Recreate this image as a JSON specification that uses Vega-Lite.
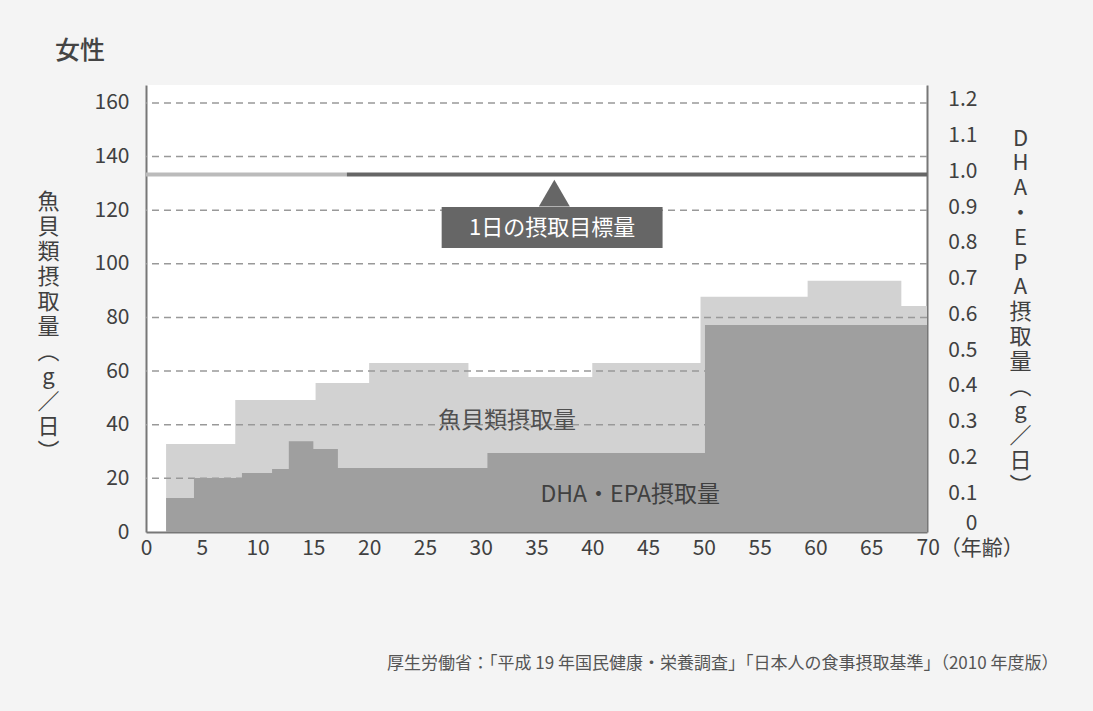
{
  "$schema": "https://vega.github.io/schema/vega-lite/v6.json",
  "width": 781,
  "height": 447,
  "autosize": {"type": "none"},
  "padding": {"left": 146, "top": 85, "right": 166, "bottom": 179},
  "background": "#f4f4f4",
  "config": {"view": {"fill": "white", "stroke": null}, "font": "Noto Sans CJK JP", "axis": {"labelOverlap": false}},
  "title": {"text": "女性", "anchor": "start", "frame": "group", "fontSize": 25, "color": "#444444", "fontWeight": 500, "dx": -91, "offset": 21},
  "datasets": {
    "fish": [
      {"age": 1.8, "fish": 32.8},
      {"age": 8, "fish": 49.2},
      {"age": 15.2, "fish": 55.6},
      {"age": 20, "fish": 63},
      {"age": 28.9, "fish": 57.8},
      {"age": 40, "fish": 63},
      {"age": 49.7, "fish": 87.7},
      {"age": 59.3, "fish": 93.7},
      {"age": 67.7, "fish": 84.3},
      {"age": 70, "fish": 84.3}
    ],
    "dha": [
      {"age": 1.8, "dha": 0.095},
      {"age": 4.3, "dha": 0.151},
      {"age": 8.6, "dha": 0.165},
      {"age": 11.3, "dha": 0.176},
      {"age": 12.8, "dha": 0.254},
      {"age": 15, "dha": 0.232},
      {"age": 17.2, "dha": 0.179},
      {"age": 30.6, "dha": 0.221},
      {"age": 50.1, "dha": 0.579},
      {"age": 70, "dha": 0.579}
    ],
    "grid": [{"g": 20}, {"g": 40}, {"g": 60}, {"g": 80}, {"g": 100}, {"g": 120}, {"g": 140}, {"g": 160}],
    "target": [
      {"age": 0, "to": 18, "dha": 1.0, "group": "child"},
      {"age": 18, "to": 70, "dha": 1.0, "group": "adult"}
    ]
  },
  "layer": [
    {
      "layer": [
        {
          "data": {"name": "fish"},
          "mark": {"type": "area", "interpolate": "step-after", "color": "#d2d2d2", "opacity": 1},
          "encoding": {
            "x": {
              "field": "age", "type": "quantitative",
              "scale": {"domain": [0, 70], "nice": false, "zero": false},
              "axis": {
                "values": [0, 5, 10, 15, 20, 25, 30, 35, 40, 45, 50, 55, 60, 65, 70],
                "tickCount": 20,
                "labelExpr": "datum.value == 70 ? '70（年齢）' : datum.label",
                "labelAlign": {"condition": {"test": "datum.value == 70", "value": "left"}, "value": "center"},
                "labelOffset": {"condition": {"test": "datum.value == 70", "value": -11}, "value": 0},
                "labelFlush": false,
                "labelOverlap": false,
                "labelFontSize": 21,
                "labelColor": "#404040",
                "labelPadding": 5,
                "ticks": false,
                "domainColor": "#777777",
                "domainWidth": 2,
                "grid": false,
                "title": "厚生労働省：「平成 19 年国民健康・栄養調査」「日本人の食事摂取基準」（2010 年度版）",
                "titleX": 912,
                "titleY": 131,
                "titleAlign": "right",
                "titleBaseline": "middle",
                "titleFontSize": 17,
                "titleFontWeight": "normal",
                "titleColor": "#555555"
              }
            },
            "y": {
              "field": "fish", "type": "quantitative",
              "scale": {"domain": [0, 166.7], "nice": false},
              "axis": {
                "values": [0, 20, 40, 60, 80, 100, 120, 140, 160],
                "tickCount": 12,
                "labelOverlap": false,
                "labelFontSize": 21,
                "labelColor": "#404040",
                "labelPadding": 17,
                "ticks": false,
                "domainColor": "#777777",
                "domainWidth": 2,
                "grid": false,
                "title": ["魚", "貝", "類", "摂", "取", "量", "︵", "g", "／", "日", "︶"],
                "titleAngle": 0,
                "titleX": -98,
                "titleY": 106,
                "titleAlign": "center",
                "titleBaseline": "top",
                "titleFontSize": 22,
                "titleLineHeight": 25,
                "titleFontWeight": "normal",
                "titleColor": "#404040"
              }
            }
          }
        },
        {
          "data": {"name": "grid"},
          "mark": {"type": "rule", "color": "#999999", "strokeDash": [7, 5], "strokeWidth": 1.5},
          "encoding": {"y": {"field": "g", "type": "quantitative"}}
        },
        {
          "data": {"values": [{}]},
          "mark": {"type": "text", "text": "魚貝類摂取量", "fontSize": 23, "color": "#505050", "align": "center", "baseline": "middle"},
          "encoding": {"x": {"datum": 32.36, "type": "quantitative"}, "y": {"datum": 41.4, "type": "quantitative"}}
        }
      ]
    },
    {
      "layer": [
        {
          "data": {"name": "dha"},
          "mark": {"type": "area", "interpolate": "step-after", "color": "#9f9f9f", "opacity": 1},
          "encoding": {
            "x": {"field": "age", "type": "quantitative"},
            "y": {
              "field": "dha", "type": "quantitative",
              "scale": {"domain": [0, 1.25], "nice": false},
              "axis": {
                "orient": "right",
                "values": [0, 0.1, 0.2, 0.3, 0.4, 0.5, 0.6, 0.7, 0.8, 0.9, 1.0, 1.1, 1.2],
                "tickCount": 20,
                "labelExpr": "datum.value == 0 ? '0' : format(datum.value, '.1f')",
                "labelAlign": "right",
                "labelOverlap": false,
                "labelOffset": {"condition": {"test": "datum.value == 0", "value": -9}, "value": -3},
                "labelFontSize": 21,
                "labelColor": "#404040",
                "labelPadding": 50,
                "ticks": false,
                "domainColor": "#777777",
                "domainWidth": 2,
                "grid": false,
                "title": ["D", "H", "A", "・", "E", "P", "A", "摂", "取", "量", "︵", "g", "／", "日", "︶"],
                "titleAngle": 0,
                "titleX": 93,
                "titleY": 43,
                "titleAlign": "center",
                "titleBaseline": "top",
                "titleFontSize": 22,
                "titleLineHeight": 24.8,
                "titleFontWeight": "normal",
                "titleColor": "#404040"
              }
            }
          }
        },
        {
          "data": {"name": "target"},
          "mark": {"type": "rule", "strokeWidth": 4},
          "encoding": {
            "x": {"field": "age", "type": "quantitative"},
            "x2": {"field": "to"},
            "y": {"field": "dha", "type": "quantitative"},
            "color": {"field": "group", "type": "nominal", "scale": {"domain": ["child", "adult"], "range": ["#bbbbbb", "#666666"]}, "legend": null}
          }
        }
      ]
    },
    {
      "layer": [
        {
          "data": {"values": [{}]},
          "mark": {"type": "text", "text": "DHA・EPA摂取量", "fontSize": 23, "color": "#404040", "align": "center", "baseline": "middle"},
          "encoding": {"x": {"datum": 43.4, "type": "quantitative"}, "y": {"datum": 13.74, "type": "quantitative"}}
        },
        {
          "data": {"values": [{}]},
          "mark": {"type": "rect", "color": "#666666"},
          "encoding": {
            "x": {"datum": 26.5, "type": "quantitative"},
            "x2": {"datum": 46.3},
            "y": {"datum": 121.2, "type": "quantitative"},
            "y2": {"datum": 105.9}
          }
        },
        {
          "data": {"values": [{}]},
          "mark": {"type": "point", "shape": "triangle-up", "filled": true, "color": "#666666", "size": 961, "opacity": 1},
          "encoding": {"x": {"datum": 36.6, "type": "quantitative"}, "y": {"datum": 126.4, "type": "quantitative"}}
        },
        {
          "data": {"values": [{}]},
          "mark": {"type": "text", "text": "1日の摂取目標量", "fontSize": 22, "color": "white", "align": "center", "baseline": "middle"},
          "encoding": {"x": {"datum": 36.4, "type": "quantitative"}, "y": {"datum": 113.5, "type": "quantitative", "scale": {"domain": [0, 166.7], "nice": false}, "axis": {"orient": "left", "labels": false, "domain": false, "ticks": false, "grid": false, "title": null}}}
        }
      ]
    }
  ],
  "resolve": {"scale": {"y": "independent"}}
}
